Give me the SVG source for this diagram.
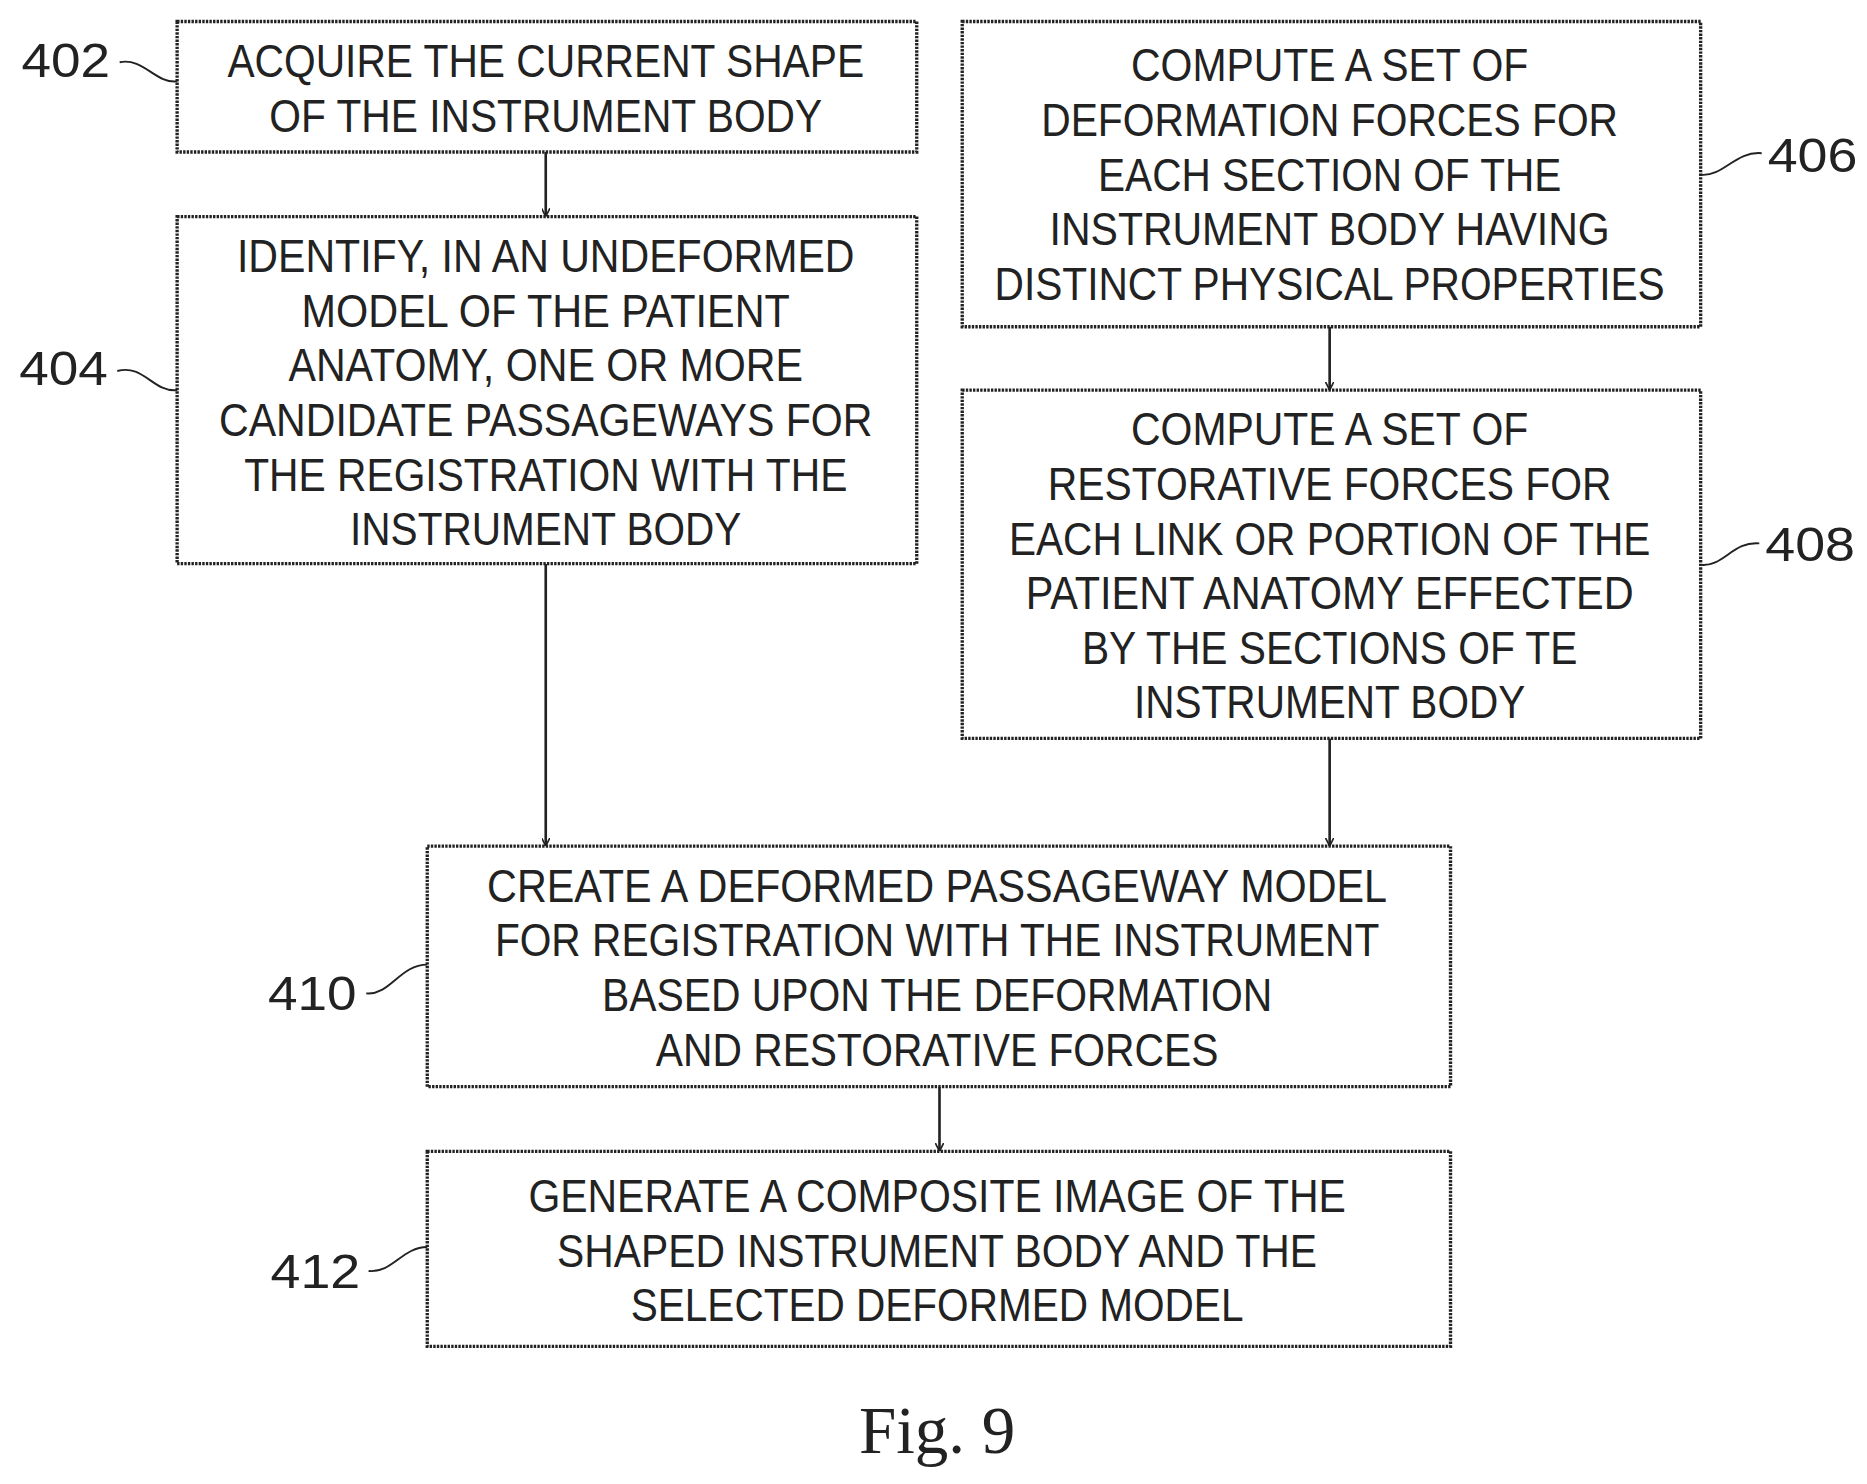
<svg xmlns="http://www.w3.org/2000/svg" width="1867" height="1484" viewBox="0 0 1867 1484">
<style>
rect.b{fill:#fff;stroke:#222;stroke-width:2.8;stroke-dasharray:2 1}
text{font-family:"Liberation Sans",Arial,sans-serif;font-size:38px;fill:#222;text-anchor:middle}
text.l{font-size:40px;text-anchor:start}
text.f{font-family:"Liberation Serif","Times New Roman",serif;font-size:56px}
.c{fill:none;stroke:#222;stroke-width:2.2}
.e{fill:none;stroke:#222;stroke-width:1.6}
</style>
<defs><marker id="a" viewBox="0 0 10 10" refX="10" refY="5" markerWidth="7" markerHeight="7" markerUnits="userSpaceOnUse" orient="auto"><path d="M0,0 L10,5 L0,10" fill="none" stroke="#222" stroke-width="2"/></marker></defs>
<rect width="1867" height="1484" fill="#fff"/>
<g transform="scale(1.1968)">
<g id="connectors">
<line class="c" x1="456" y1="127" x2="456" y2="181" marker-end="url(#a)"/>
<line class="c" x1="456" y1="471" x2="456" y2="707" marker-end="url(#a)"/>
<line class="c" x1="1111" y1="273" x2="1111" y2="326" marker-end="url(#a)"/>
<line class="c" x1="1111" y1="617" x2="1111" y2="707" marker-end="url(#a)"/>
<line class="c" x1="785" y1="908" x2="785" y2="962" marker-end="url(#a)"/>
</g>
<g id="n402"><rect class="b" x="148" y="18" width="618" height="109"/>
<text x="456" y="64" textLength="532" lengthAdjust="spacingAndGlyphs">ACQUIRE THE CURRENT SHAPE</text>
<text x="456" y="110" textLength="462" lengthAdjust="spacingAndGlyphs">OF THE INSTRUMENT BODY</text>
<text class="l" x="18" y="64" textLength="74" lengthAdjust="spacingAndGlyphs">402</text>
<path class="e" d="M100,52 C120,48 130,70 148,68"/></g>
<g id="n404"><rect class="b" x="148" y="181" width="618" height="290"/>
<text x="456" y="227" textLength="516" lengthAdjust="spacingAndGlyphs">IDENTIFY, IN AN UNDEFORMED</text>
<text x="456" y="273" textLength="408" lengthAdjust="spacingAndGlyphs">MODEL OF THE PATIENT</text>
<text x="456" y="318" textLength="430" lengthAdjust="spacingAndGlyphs">ANATOMY, ONE OR MORE</text>
<text x="456" y="364" textLength="546" lengthAdjust="spacingAndGlyphs">CANDIDATE PASSAGEWAYS FOR</text>
<text x="456" y="410" textLength="504" lengthAdjust="spacingAndGlyphs">THE REGISTRATION WITH THE</text>
<text x="456" y="455" textLength="327" lengthAdjust="spacingAndGlyphs">INSTRUMENT BODY</text>
<text class="l" x="16" y="322" textLength="74" lengthAdjust="spacingAndGlyphs">404</text>
<path class="e" d="M98,310 C120,304 128,328 148,326"/></g>
<g id="n406"><rect class="b" x="804" y="18" width="617" height="255"/>
<text x="1111" y="68" textLength="332" lengthAdjust="spacingAndGlyphs">COMPUTE A SET OF</text>
<text x="1111" y="114" textLength="482" lengthAdjust="spacingAndGlyphs">DEFORMATION FORCES FOR</text>
<text x="1111" y="160" textLength="387" lengthAdjust="spacingAndGlyphs">EACH SECTION OF THE</text>
<text x="1111" y="205" textLength="468" lengthAdjust="spacingAndGlyphs">INSTRUMENT BODY HAVING</text>
<text x="1111" y="251" textLength="560" lengthAdjust="spacingAndGlyphs">DISTINCT PHYSICAL PROPERTIES</text>
<text class="l" x="1477" y="144" textLength="75" lengthAdjust="spacingAndGlyphs">406</text>
<path class="e" d="M1421,146 C1440,148 1450,126 1472,128"/></g>
<g id="n408"><rect class="b" x="804" y="326" width="617" height="291"/>
<text x="1111" y="372" textLength="332" lengthAdjust="spacingAndGlyphs">COMPUTE A SET OF</text>
<text x="1111" y="418" textLength="471" lengthAdjust="spacingAndGlyphs">RESTORATIVE FORCES FOR</text>
<text x="1111" y="464" textLength="536" lengthAdjust="spacingAndGlyphs">EACH LINK OR PORTION OF THE</text>
<text x="1111" y="509" textLength="508" lengthAdjust="spacingAndGlyphs">PATIENT ANATOMY EFFECTED</text>
<text x="1111" y="555" textLength="414" lengthAdjust="spacingAndGlyphs">BY THE SECTIONS OF TE</text>
<text x="1111" y="600" textLength="327" lengthAdjust="spacingAndGlyphs">INSTRUMENT BODY</text>
<text class="l" x="1475" y="469" textLength="75" lengthAdjust="spacingAndGlyphs">408</text>
<path class="e" d="M1421,472 C1440,474 1448,452 1470,454"/></g>
<g id="n410"><rect class="b" x="357" y="707" width="855" height="201"/>
<text x="783" y="754" textLength="752" lengthAdjust="spacingAndGlyphs">CREATE A DEFORMED PASSAGEWAY MODEL</text>
<text x="783" y="799" textLength="739" lengthAdjust="spacingAndGlyphs">FOR REGISTRATION WITH THE INSTRUMENT</text>
<text x="783" y="845" textLength="560" lengthAdjust="spacingAndGlyphs">BASED UPON THE DEFORMATION</text>
<text x="783" y="891" textLength="470" lengthAdjust="spacingAndGlyphs">AND RESTORATIVE FORCES</text>
<text class="l" x="224" y="844" textLength="74" lengthAdjust="spacingAndGlyphs">410</text>
<path class="e" d="M306,830 C326,832 334,806 357,806"/></g>
<g id="n412"><rect class="b" x="357" y="962" width="855" height="163"/>
<text x="783" y="1013" textLength="683" lengthAdjust="spacingAndGlyphs">GENERATE A COMPOSITE IMAGE OF THE</text>
<text x="783" y="1059" textLength="635" lengthAdjust="spacingAndGlyphs">SHAPED INSTRUMENT BODY AND THE</text>
<text x="783" y="1104" textLength="512" lengthAdjust="spacingAndGlyphs">SELECTED DEFORMED MODEL</text>
<text class="l" x="226" y="1076" textLength="75" lengthAdjust="spacingAndGlyphs">412</text>
<path class="e" d="M308,1062 C328,1064 336,1042 357,1042"/></g>
<text class="f" x="783" y="1214">Fig. 9</text>
</g>
</svg>
